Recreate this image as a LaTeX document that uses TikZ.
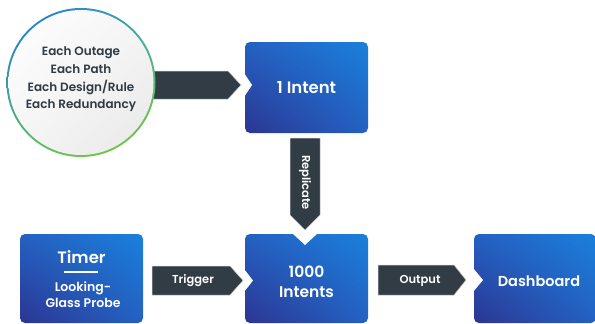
\documentclass[tikz,border=0pt]{standalone}
\usepackage{fontspec}
\setmainfont{Poppins}[BoldFont={Poppins SemiBold}]
\usetikzlibrary{calc,shadings}
\definecolor{bxdark}{HTML}{2C3592}
\definecolor{bxmid}{HTML}{2461C2}
\definecolor{bxlight}{HTML}{1A80DC}
\definecolor{arr}{HTML}{323C44}
\definecolor{arrline}{HTML}{C9CDD1}
\definecolor{ringblue}{HTML}{1C74D8}
\definecolor{ringgreen}{HTML}{7DCB2A}
\definecolor{ringteal}{HTML}{3AA9B5}
\definecolor{ringlg}{HTML}{5DBF6A}
\definecolor{txtdark}{HTML}{2F3A44}
\tikzset{
  boxshade/.style={rounded corners=5pt,
    lower left=bxdark, upper right=bxlight, upper left=bxmid, lower right=bxmid},
  boxtext/.style={inner sep=0pt, text=white, font=\bfseries\fontsize{16.5}{20}\selectfont, align=center},
  blockarrow/.style={fill=arr, draw=arrline, line width=0.5pt},
  arrtext/.style={text=white, font=\bfseries\fontsize{11.5}{13}\selectfont},
  notch/.style={fill=white, draw=none},
}
\begin{document}
\begin{tikzpicture}[x=1pt,y=-1pt]
\useasboundingbox (0,0) rectangle (595,324);
% arrow from circle to 1 Intent
\draw[blockarrow] (140,71) -- (228,71) -- (241,85) -- (228,99) -- (140,99) -- cycle;
% circle
\shade[upper left=ringblue, lower right=ringgreen, upper right=ringteal, lower left=ringlg] (81,82.5) circle[radius=74.5];
\shade[upper left=white, lower right=gray!18, upper right=gray!8, lower left=gray!8] (81,82.5) circle[radius=72.5];
\node[text=txtdark, font=\bfseries\fontsize{12}{17.6}\selectfont, align=center] (src) at (81,79.5)
  {Each Outage\\Each Path\\Each Design/Rule\\Each Redundancy};
% boxes
\shade[boxshade] (245,42) rectangle (368,133);
\node[boxtext] (one) at (306.5,88) {1 Intent};
\fill[notch] (244,73) -- (252,85) -- (244,97) -- cycle;

\shade[boxshade] (245,234) rectangle (368,323);
\node[boxtext, font=\bfseries\fontsize{15.5}{20}\selectfont] (thousand) at (306.5,282) {1000\\Intents};
\fill[notch] (244,269) -- (253,280.5) -- (244,292) -- cycle;
\fill[notch] (292,233) -- (305,245) -- (318,233) -- cycle;

\shade[boxshade] (20,234) rectangle (143,323);
\node[boxtext] (timer) at (81.5,257) {Timer};
\draw[white, line width=1.3pt] (64,272) -- (98,272);
\node[text=white, font=\bfseries\fontsize{12.5}{16}\selectfont, align=center] (probe) at (83,295) {Looking-\\Glass Probe};

\shade[boxshade] (474,234) rectangle (596,323);
\node[boxtext, font=\bfseries\fontsize{14.5}{18}\selectfont] (dash) at (539,281) {Dashboard};
\fill[notch] (473,268) -- (483,280) -- (473,292) -- cycle;

% replicate arrow
\draw[blockarrow] (290,138) -- (320,138) -- (320,215) -- (305,230) -- (290,215) -- cycle;
\node[arrtext, font=\bfseries\fontsize{11.5}{13}\selectfont, rotate=-90] (rep) at (305,182.5) {Replicate};
% trigger arrow
\draw[blockarrow] (152,266) -- (230,266) -- (243,280.5) -- (230,295) -- (152,295) -- cycle;
\node[arrtext] (trig) at (193,281) {Trigger};
% output arrow
\draw[blockarrow] (378,265) -- (454,265) -- (466,280) -- (454,295) -- (378,295) -- cycle;
\node[arrtext] (out) at (420,281) {Output};
\end{tikzpicture}
\end{document}
